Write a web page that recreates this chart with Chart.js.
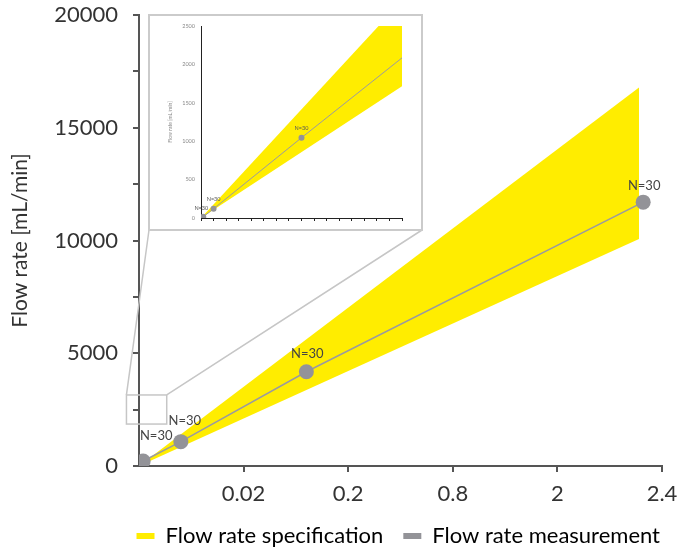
<!DOCTYPE html>
<html>
<head>
<meta charset="utf-8">
<script src="https://cdn.jsdelivr.net/npm/chart.js@4.4.1/dist/chart.umd.min.js"></script>
<style>
  html, body { margin: 0; padding: 0; background: #fff; }
  #wrap { position: relative; width: 680px; height: 549px; }
  #inset {
    position: absolute; left: 148px; top: 14px;
    width: 275px; height: 217px; box-sizing: border-box;
    border: 2px solid #cbcbcb; background: #fff;
  }
  #inset canvas { display: block; }
</style>
</head>
<body>
<div id="wrap">
  <canvas id="mainChart" width="680" height="549"></canvas>
  <div id="inset"><canvas id="insetChart" width="271" height="213"></canvas></div>
</div>
<script>
// main chart data
const xTickLabels = ['0.02', '0.2', '0.8', '2', '2.4'];
const measX = [0.04, 0.40, 1.60, 4.82];
const measY = [220, 1080, 4180, 11700];
const measLabels = ['N=30', 'N=30', 'N=30', 'N=30'];
const specX = [0, 4.78];
const specUpper = [0, 16790];
const specLower = [0, 10070];

// inset (zoomed view) data
const insetX = [0.18, 1, 8, 16];
const insetY = [15, 120, 1045, 2085];
const insetLabels = ['N=30', 'N=30', 'N=30', ''];
const insetSpecX = [0, 16];
const insetSpecUpper = [0, 2830];
const insetSpecLower = [0, 1715];

const YELLOW = '#FFED00';
const GREY = '#939398';
const FONT = 'Lato, "Noto Sans", sans-serif';

const toPts = (xs, ys) => xs.map((x, i) => ({ x: x, y: ys[i] }));

// draws "N=30" above the measurement points
const pointLabels = {
  id: 'pointLabels',
  afterDatasetsDraw(chart, args, opts) {
    const meta = chart.getDatasetMeta(opts.datasetIndex);
    const ctx = chart.ctx;
    ctx.save();
    ctx.font = opts.font;
    ctx.fillStyle = opts.color;
    ctx.textAlign = 'center';
    ctx.textBaseline = 'middle';
    meta.data.forEach((pt, i) => {
      const t = opts.labels[i];
      if (!t) return;
      const off = opts.offsets[i] || [0, -16];
      ctx.fillText(t, pt.x + off[0], pt.y + off[1]);
    });
    ctx.restore();
  }
};

// small rectangle near the origin + lines up to the inset box
const zoomLines = {
  id: 'zoomLines',
  afterDraw(chart, args, opts) {
    const xs = chart.scales.x, ys = chart.scales.y;
    const l = xs.getPixelForValue(opts.box[0]);
    const r = xs.getPixelForValue(opts.box[1]);
    const b = ys.getPixelForValue(opts.box[2]);
    const t = ys.getPixelForValue(opts.box[3]);
    const box = document.getElementById('inset');
    const il = box.offsetLeft + 1, ir = box.offsetLeft + box.offsetWidth - 1;
    const ib = box.offsetTop + box.offsetHeight - 1;
    const ctx = chart.ctx;
    ctx.save();
    ctx.strokeStyle = '#c6c6c6';
    ctx.lineWidth = 1.5;
    ctx.strokeRect(l, t, r - l, b - t);
    ctx.beginPath();
    ctx.moveTo(l, t); ctx.lineTo(il, ib);
    ctx.moveTo(r, t); ctx.lineTo(ir, ib);
    ctx.stroke();
    ctx.restore();
  }
};

new Chart(document.getElementById('mainChart'), {
  type: 'scatter',
  data: {
    datasets: [
      {
        label: 'Flow rate measurement',
        data: toPts(measX, measY),
        showLine: true,
        borderColor: '#9a9aa0',
        borderWidth: 1.5,
        backgroundColor: GREY,
        pointRadius: 7.5,
        pointBorderWidth: 0,
        order: 0
      },
      {
        label: 'Flow rate specification',
        data: toPts(specX, specUpper),
        showLine: true,
        borderWidth: 0,
        pointRadius: 0,
        backgroundColor: YELLOW,
        fill: '+1',
        order: 1
      },
      {
        label: 'spec lower',
        data: toPts(specX, specLower),
        showLine: true,
        borderWidth: 0,
        pointRadius: 0,
        order: 2
      }
    ]
  },
  options: {
    responsive: false,
    animation: false,
    layout: { padding: { top: 15, right: 0, left: 0, bottom: -8 } },
    scales: {
      x: {
        min: 0, max: 5,
        afterFit: (s) => { s.height = 39; s.paddingRight = 18; s.paddingLeft = 0; },
        afterBuildTicks: (s) => { s.ticks = xTickLabels.map((_, i) => ({ value: i + 1 })); },
        ticks: {
          callback: (v) => xTickLabels[v - 1] || '',
          font: { family: FONT, size: 22 },
          color: '#333',
          padding: 9,
          maxRotation: 0
        },
        grid: { drawOnChartArea: false, tickLength: 6, color: '#555', lineWidth: 2 },
        border: { color: '#555', width: 2 }
      },
      y: {
        min: 0, max: 20000,
        afterFit: (s) => { s.width = 139; s.paddingTop = 0; s.paddingBottom = 0; },
        ticks: {
          stepSize: 2500,
          autoSkip: false,
          callback: (v) => (v % 5000 === 0 ? String(v) : ''),
          font: { family: FONT, size: 22 },
          color: '#333',
          padding: 15
        },
        grid: { drawOnChartArea: false, tickLength: 6, color: '#555', lineWidth: 2 },
        border: { color: '#555', width: 2 },
        title: {
          display: true,
          text: 'Flow rate [mL/min]',
          font: { family: FONT, size: 21 },
          color: '#333',
          padding: { top: 8, bottom: 0 }
        }
      }
    },
    plugins: {
      legend: {
        position: 'bottom',
        align: 'end',
        labels: {
          boxWidth: 18,
          boxHeight: 6,
          padding: 20,
          color: '#333',
          font: { family: FONT, size: 22 },
          generateLabels: () => [
            { text: 'Flow rate specification', fillStyle: YELLOW, strokeStyle: YELLOW, lineWidth: 0, hidden: false, datasetIndex: 1 },
            { text: 'Flow rate measurement', fillStyle: GREY, strokeStyle: GREY, lineWidth: 0, hidden: false, datasetIndex: 0 }
          ]
        }
      },
      tooltip: { enabled: false },
      pointLabels: {
        datasetIndex: 0,
        labels: measLabels,
        offsets: [[13, -25], [4, -21], [1, -18], [1, -16]],
        font: '13px ' + FONT,
        color: '#444'
      },
      zoomLines: { box: [-0.12, 0.265, 1860, 3150] }
    }
  },
  plugins: [pointLabels, zoomLines]
});

new Chart(document.getElementById('insetChart'), {
  type: 'scatter',
  data: {
    datasets: [
      {
        label: 'measurement',
        data: toPts(insetX, insetY),
        showLine: true,
        borderColor: '#9a9aa0',
        borderWidth: 1,
        backgroundColor: GREY,
        pointRadius: insetX.map((_, i) => (insetLabels[i] ? 3 : 0)),
        pointBorderWidth: 0,
        order: 0
      },
      {
        label: 'spec upper',
        data: toPts(insetSpecX, insetSpecUpper),
        showLine: true,
        borderWidth: 0,
        pointRadius: 0,
        backgroundColor: YELLOW,
        fill: '+1',
        order: 1
      },
      {
        label: 'spec lower',
        data: toPts(insetSpecX, insetSpecLower),
        showLine: true,
        borderWidth: 0,
        pointRadius: 0,
        order: 2
      }
    ]
  },
  options: {
    responsive: false,
    animation: false,
    layout: { padding: { top: 10, right: 19, left: 0, bottom: 0 } },
    scales: {
      x: {
        min: 0, max: 16,
        afterFit: (s) => { s.height = 11; },
        ticks: { display: false, stepSize: 1, autoSkip: false },
        grid: { drawOnChartArea: false, tickLength: 3, color: '#222', lineWidth: 1 },
        border: { color: '#222', width: 1 }
      },
      y: {
        min: 0, max: 2500,
        afterFit: (s) => { s.width = 51; },
        ticks: {
          stepSize: 500,
          callback: (v) => String(v),
          font: { family: FONT, size: 5.5 },
          color: '#888',
          padding: 6
        },
        grid: { drawOnChartArea: false, drawTicks: false },
        border: { color: '#222', width: 1 },
        title: {
          display: true,
          text: 'Flow rate [mL/min]',
          font: { family: FONT, size: 5 },
          color: '#888',
          padding: { top: 17, bottom: 0 }
        }
      }
    },
    plugins: {
      legend: { display: false },
      tooltip: { enabled: false },
      pointLabels: {
        datasetIndex: 0,
        labels: insetLabels,
        offsets: [[-2, -9], [0, -10], [0, -10]],
        font: '5.5px ' + FONT,
        color: '#555'
      }
    }
  },
  plugins: [pointLabels]
});
</script>
</body>
</html>
